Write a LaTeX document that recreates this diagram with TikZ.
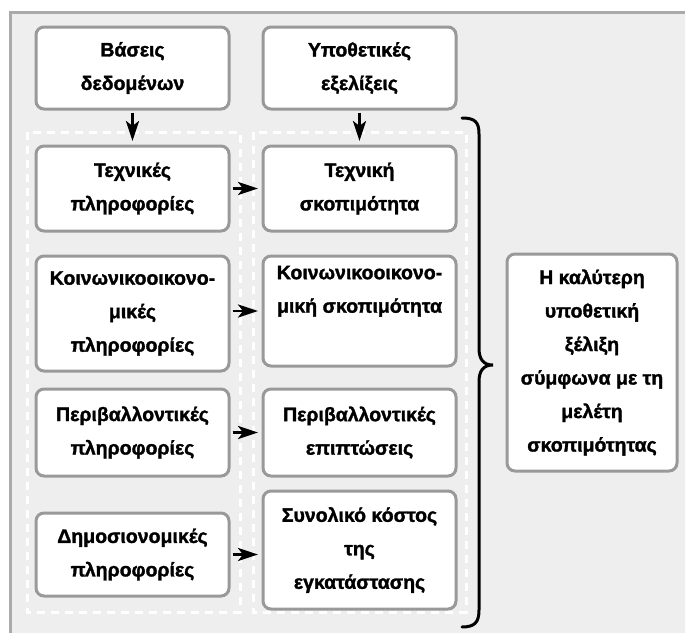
\documentclass[tikz,border=0pt]{standalone}
\usepackage{fontspec}
\setmainfont{Liberation Sans}
\newfontfamily\boxfont{Liberation Sans Bold}[FakeBold=1.6]
\usetikzlibrary{arrows.meta}
\definecolor{bgfill}{HTML}{EEEEEE}
\definecolor{framecol}{HTML}{AAAAAA}
\definecolor{boxcol}{HTML}{999999}
\tikzset{
  box/.style={draw=boxcol, line width=3pt, fill=white, rounded corners=8pt,
    align=center, inner sep=0pt, text=black,
    font=\boxfont\fontsize{19.5pt}{33.5pt}\selectfont},
  arr/.style={line width=2.8pt, -{Stealth[length=20pt,width=13pt,inset=5pt]},
    shorten <=2pt, shorten >=3.5pt},
  dashbox/.style={draw=white, line width=3pt, dash pattern=on 8pt off 6pt},
}
\begin{document}
\begin{tikzpicture}[x=1pt,y=-1pt]
\useasboundingbox (0,0) rectangle (685,632);
\clip (0,0) rectangle (685,632);
\fill[white] (0,0) rectangle (685,632);
\draw[draw=framecol, fill=bgfill, line width=3pt] (10,12) rectangle (720,670);

\draw[dashbox] (27,132) rectangle (240,612);
\draw[dashbox] (253,132) rectangle (466,612);

\node[box, minimum width=193pt, minimum height=82pt] (db) at (132.5,68) {Βάσεις\\δεδομένων};
\node[box, minimum width=193pt, minimum height=82pt] (hyp) at (359.5,68) {Υποθετικές\\εξελίξεις};

\node[box, minimum width=193pt, minimum height=85pt] (L1) at (132.5,188.5) {Τεχνικές\\πληροφορίες};
\node[box, minimum width=193pt, minimum height=85pt] (R1) at (359.5,188.5) {Τεχνική\\σκοπιμότητα};

\node[box, minimum width=193pt, minimum height=115pt] (L2) at (132.5,313.5) {Κοινωνικοοικονο-\\μικές\\πληροφορίες};
\node[box, minimum width=193pt, minimum height=110pt] (R2) at (359.5,311) {Κοινωνικοοικονο-\\μική σκοπιμότητα\\\strut};

\node[box, minimum width=193pt, minimum height=87pt] (L3) at (132.5,432.5) {Περιβαλλοντικές\\πληροφορίες};
\node[box, minimum width=193pt, minimum height=87pt] (R3) at (359.5,432.5) {Περιβαλλοντικές\\επιπτώσεις};

\node[box, minimum width=193pt, minimum height=83pt] (L4) at (132.5,554.5) {Δημοσιονομικές\\πληροφορίες};
\node[box, minimum width=193pt, minimum height=118pt] (R4) at (359.5,550) {Συνολικό κόστος\\της\\εγκατάστασης};

\node[box, minimum width=170pt, minimum height=217pt] (best) at (592,362.5) {Η καλύτερη\\υποθετική\\ξέλιξη\\σύμφωνα με τη\\μελέτη\\σκοπιμότητας};

\draw[arr] (db.south) -- (L1.north);
\draw[arr] (hyp.south) -- (R1.north);
\draw[arr] (L1.east) -- (R1.west);
\draw[arr] (R2.west -| L2.east) -- (R2.west);
\draw[arr] (L3.east) -- (R3.west);
\draw[arr] (L4.east) -- (L4.east -| R4.west);

\coordinate (bt) at (462,118);
\coordinate (bb) at (462,627);
\coordinate (btip) at (493,365);
\draw[line width=3pt, line cap=round]
  (bt) .. controls (475,118) and (479,122) .. (479,134)
  -- (479,348) .. controls (479,359) and (483,365) .. (btip)
  .. controls (483,365) and (479,371) .. (479,382)
  -- (479,610) .. controls (479,622) and (475,627) .. (bb);
\end{tikzpicture}
\end{document}
